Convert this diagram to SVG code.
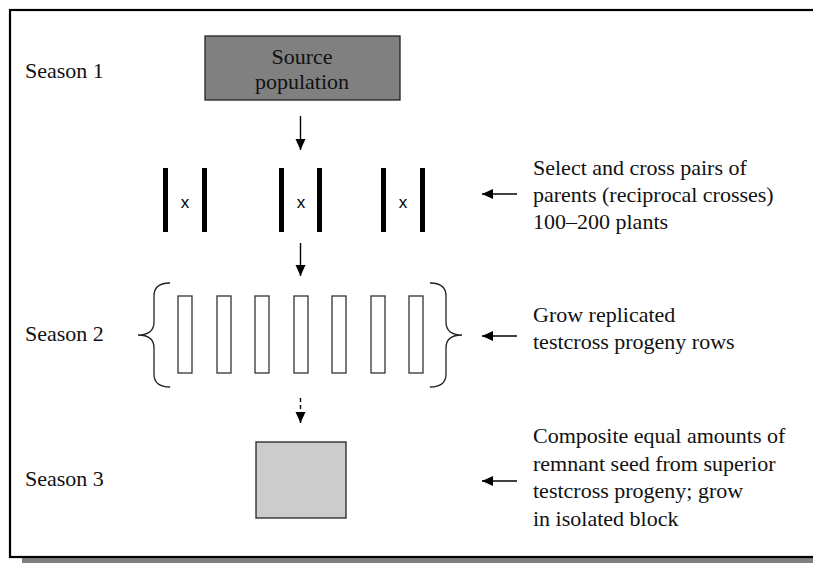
<svg xmlns="http://www.w3.org/2000/svg" width="813" height="563" viewBox="0 0 813 563">
<defs>
<marker id="ah" markerUnits="userSpaceOnUse" markerWidth="12" markerHeight="12" viewBox="0 0 12 12" refX="11" refY="6" orient="auto">
<path d="M0,1 L11,6 L0,11 Z" fill="#000"/>
</marker>
</defs>
<style>
.t{font-family:"Liberation Serif","Times New Roman",serif;font-size:22px;fill:#111}
.x{font-family:"Liberation Sans",Arial,sans-serif;font-size:17px;fill:#000}
.c{fill:none;stroke:#000;stroke-width:1.4}
.bar{fill:#000}
.row{fill:#fff;stroke:#333;stroke-width:1.3}
.brace{fill:none;stroke:#222;stroke-width:1.3}
</style>
<rect x="22" y="16" width="830" height="547" fill="#808080"/>
<rect x="10" y="10" width="830" height="547" fill="#fff" stroke="#000" stroke-width="2.2"/>

<g id="labels">
<text class="t" x="25" y="78">Season 1</text>
<text class="t" x="25" y="341">Season 2</text>
<text class="t" x="25" y="486">Season 3</text>
</g>

<g id="source">
<rect x="205" y="36" width="195" height="64" fill="#808080" stroke="#222" stroke-width="1.3"/>
<text class="t" x="302" y="64" text-anchor="middle">Source</text>
<text class="t" x="302" y="89" text-anchor="middle">population</text>
</g>

<g id="crosses">
<rect class="bar" x="163" y="168" width="5" height="64"/>
<rect class="bar" x="202" y="168" width="5" height="64"/>
<text class="x" x="185" y="208" text-anchor="middle">x</text>
<rect class="bar" x="279" y="168" width="5" height="64"/>
<rect class="bar" x="317" y="168" width="5" height="64"/>
<text class="x" x="301" y="208" text-anchor="middle">x</text>
<rect class="bar" x="381" y="168" width="5" height="64"/>
<rect class="bar" x="420" y="168" width="5" height="64"/>
<text class="x" x="403" y="208" text-anchor="middle">x</text>
</g>

<g id="rows">
<path class="brace" d="M170,283 Q154,283 154,296 L154,322 Q154,335 138,335 Q154,335 154,348 L154,374 Q154,387 170,387"/>
<rect class="row" x="178" y="296" width="14" height="77"/>
<rect class="row" x="217" y="296" width="14" height="77"/>
<rect class="row" x="255" y="296" width="14" height="77"/>
<rect class="row" x="294" y="296" width="14" height="77"/>
<rect class="row" x="332" y="296" width="14" height="77"/>
<rect class="row" x="371" y="296" width="14" height="77"/>
<rect class="row" x="409" y="296" width="14" height="77"/>
<path class="brace" d="M430,283 Q446,283 446,296 L446,322 Q446,335 462,335 Q446,335 446,348 L446,374 Q446,387 430,387"/>
</g>

<g id="composite">
<rect x="256" y="442" width="90" height="76" fill="#cccccc" stroke="#222" stroke-width="1.3"/>
</g>

<g id="notes">
<text class="t" x="533" y="175">Select and cross pairs of</text>
<text class="t" x="533" y="202">parents (reciprocal crosses)</text>
<text class="t" x="533" y="229">100–200 plants</text>
<text class="t" x="533" y="322">Grow replicated</text>
<text class="t" x="533" y="349">testcross progeny rows</text>
<text class="t" x="533" y="443">Composite equal amounts of</text>
<text class="t" x="533" y="471">remnant seed from superior</text>
<text class="t" x="533" y="498">testcross progeny; grow</text>
<text class="t" x="533" y="526">in isolated block</text>
</g>

<g id="connectors">
<line class="c" x1="300.5" y1="116" x2="300.5" y2="150" marker-end="url(#ah)"/>
<line class="c" x1="300.5" y1="243" x2="300.5" y2="276" marker-end="url(#ah)"/>
<line class="c" x1="300.5" y1="398" x2="300.5" y2="423" stroke-dasharray="4,3" marker-end="url(#ah)"/>
<line class="c" x1="517" y1="194" x2="482" y2="194" marker-end="url(#ah)"/>
<line class="c" x1="517" y1="336" x2="482" y2="336" marker-end="url(#ah)"/>
<line class="c" x1="517" y1="481" x2="482" y2="481" marker-end="url(#ah)"/>
</g>
</svg>
